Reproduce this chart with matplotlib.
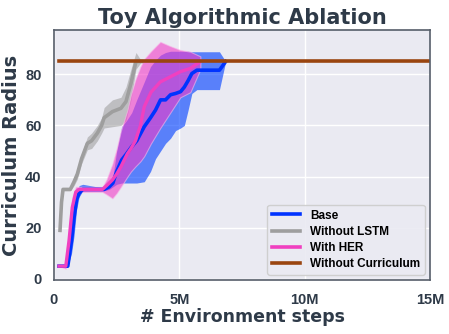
import numpy as np
import matplotlib
matplotlib.use("Agg")
import matplotlib.pyplot as plt
from matplotlib.ticker import FuncFormatter

# ---- data (x in millions of environment steps) ----
base_x = [0.2, 0.55, 0.7, 0.8, 0.9, 1.0, 1.15, 2.0, 2.2, 2.35, 2.5, 2.7, 2.9, 3.1, 3.3,
          3.6, 3.85, 4.05, 4.25, 4.45, 4.65, 4.85, 5.05, 5.2, 5.35, 5.5, 5.7, 6.6, 6.85]
base_y = [5, 5, 15, 24, 31, 33.5, 35, 35, 36, 37.5, 42, 46.5, 49, 51.7, 54,
          59.5, 63, 66, 70, 70, 72, 72.5, 73.2, 75, 77.5, 80.3, 81.6, 81.6, 85]
base_lo = [5, 5, 10, 17, 27, 32, 34.5, 34.5, 35, 36, 37, 37.5, 37.5, 37.5, 37.5,
           38, 42, 47, 50, 53, 55, 58, 59, 60, 66, 72.5, 74, 74, 85]
base_hi = [5, 5, 18, 28, 33, 36.5, 37, 35.5, 37, 40, 50, 59.5, 62, 65, 70,
           77, 83, 85.5, 87.5, 88.5, 89, 89, 89, 89, 89, 88.8, 88.8, 88.8, 85]

lstm_x = [0.24, 0.3, 0.36, 0.65, 0.8, 0.93, 1.1, 1.33, 1.5, 1.73, 1.9, 2.0,
          2.33, 2.67, 2.87, 3.07, 3.27, 3.5]
lstm_y = [19, 30, 35, 35, 38, 41, 47, 53, 54, 57, 60, 63, 65.4, 66.7, 69.3, 76.4, 85, 85]
lstm_lo = [18, 29, 34.5, 34.5, 36.5, 39, 45, 50.5, 51, 54, 57, 59, 59.5, 60, 62, 70, 82, 85]
lstm_hi = [20, 31, 35.5, 35.5, 39.5, 43, 49, 55.5, 57, 60, 63, 67, 70, 71, 75, 82, 88.5, 85]

her_x = [0.2, 0.47, 0.6, 0.73, 0.87, 1.0, 1.93, 2.1, 2.33, 2.5, 2.67, 2.8, 2.93, 3.07, 3.25,
         3.45, 3.6, 3.87, 4.24, 4.64, 5.04, 5.44, 5.84]
her_y = [5, 5, 15, 28, 34, 35, 35, 36.5, 38.7, 41, 43.9, 46.5, 49, 51, 54,
         60, 67.3, 73, 77, 79, 81, 82.3, 85]
her_lo = [5, 4, 10, 22, 32, 34, 34, 33, 31.5, 33.5, 36, 38, 40, 42, 44,
          46, 48, 53, 59, 65, 71, 73, 82]
her_hi = [5, 6, 20, 32, 36, 36, 36, 39, 45, 51, 58, 62, 66, 72, 78,
          83, 86, 89, 92.7, 91, 89.5, 88.8, 87]

nocurr_x = [0.2, 15.0]
nocurr_y = [85, 85]

TEXT = "#2e3a48"
SPINE = "#565e6a"

plt.rcParams["font.family"] = "DejaVu Sans"

fig = plt.figure(figsize=(4.49, 3.34), dpi=100)
ax = fig.add_axes([54 / 449, 1 - 280 / 334, 376 / 449, 250 / 334])
ax.set_facecolor("#eaeaf2")
ax.grid(True, color="white", lw=1.0)
ax.set_axisbelow(True)

M = 1e6
ax.fill_between(np.array(lstm_x) * M, lstm_lo, lstm_hi, color="#9a9a9a", alpha=0.55, lw=0)
ax.fill_between(np.array(base_x) * M, base_lo, base_hi, color="#0040ff", alpha=0.62, lw=0)
ax.fill_between(np.array(her_x) * M, her_lo, her_hi, facecolor="#f23ac7", alpha=0.6,
                edgecolor="#f8b8e8", lw=0.8)

ax.plot(np.array(lstm_x) * M, lstm_y, color="#9e9e9e", lw=2.6, label="Without LSTM")
ax.plot(np.array(base_x) * M, base_y, color="#0033ff", lw=2.6, label="Base")
ax.plot(np.array(her_x) * M, her_y, color="#f040c0", lw=2.4, label="With HER")
ax.plot(np.array(nocurr_x) * M, nocurr_y, color="#9a4510", lw=2.6, label="Without Curriculum")

ax.set_xlim(0, 15 * M)
ax.set_ylim(-0.4, 97.3)
ax.set_xticks([0, 5 * M, 10 * M, 15 * M])
ax.set_yticks([0, 20, 40, 60, 80])
ax.xaxis.set_major_formatter(FuncFormatter(lambda v, p: "0" if v == 0 else f"{int(v / M)}M"))
ax.tick_params(length=0, labelsize=10.5, labelcolor=TEXT)
ax.tick_params(axis="x", pad=9)
ax.tick_params(axis="y", pad=9)
for lab in ax.get_xticklabels() + ax.get_yticklabels():
    lab.set_fontweight("bold")
    lab.set_family("Liberation Sans")

for s in ax.spines.values():
    s.set_color(SPINE)
    s.set_linewidth(1.2)

ax.set_title("Toy Algorithmic Ablation", fontsize=15, fontweight="bold", color=TEXT, pad=4)
ax.set_xlabel("# Environment steps", fontsize=12.5, fontweight="bold", color=TEXT, labelpad=1)
ax.set_ylabel("Curriculum Radius", fontsize=14, fontweight="bold", color=TEXT, labelpad=3)

handles, labels = ax.get_legend_handles_labels()
order = [1, 0, 2, 3]
leg = ax.legend([handles[i] for i in order], [labels[i] for i in order],
                loc="lower right", prop={"weight": "bold", "size": 8.5, "family": "Liberation Sans"},
                facecolor="#eaeaf2", edgecolor="#cccccc", framealpha=0.9,
                handlelength=2.4, borderaxespad=0.45, labelspacing=0.35)
for l in leg.get_lines():
    l.set_linewidth(2.6)

fig.savefig("out.png", dpi=100)
